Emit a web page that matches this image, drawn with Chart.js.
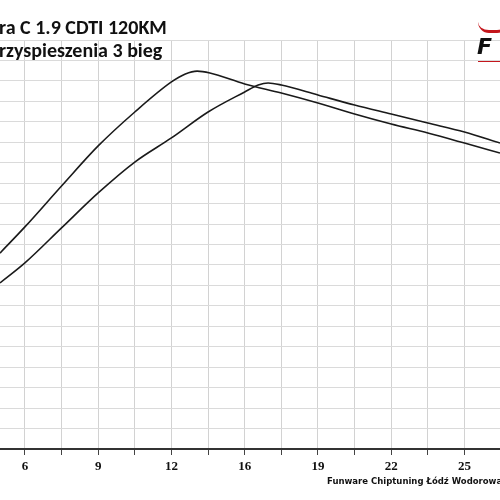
<!DOCTYPE html>
<html>
<head>
<meta charset="utf-8">
<script src="https://cdn.jsdelivr.net/npm/chart.js@4"></script>
<style>
  body { margin: 0; background: #fff; }
  #wrap { position: relative; width: 500px; height: 500px; overflow: hidden; }
  .t { position: absolute; font-family: Carlito, "Open Sans", sans-serif; font-weight: bold; font-size: 20px; color: #111; white-space: nowrap; }
  #foot { position: absolute; left: 327px; top: 476px; font-family: "DejaVu Sans", Verdana, sans-serif; font-weight: bold; font-size: 8.5px; color: #111; white-space: nowrap; }
  #logo { position: absolute; left: 477px; top: 34px; font-family: "DejaVu Sans", sans-serif; font-style: italic; font-weight: bold; font-size: 22px; color: #111; }
  #swoosh { position: absolute; left: 478px; top: 22px; width: 30px; height: 8px; border-bottom: 3px solid #c4161c; border-radius: 0 0 20px 20px; }
  #redline { position: absolute; left: 478px; top: 61px; width: 30px; height: 1px; background: #c4161c; }
</style>
</head>
<body>
<div id="wrap">
  <canvas id="chart" width="500" height="500"></canvas>
  <div class="t" style="left:-1px;top:15px">ra C 1.9 CDTI 120KM</div>
  <div class="t" style="left:-1px;top:38px">rzyspieszenia 3 bieg</div>
  <div id="swoosh"></div>
  <div id="logo">F</div>
  <div id="redline"></div>
  <div id="foot">Funware Chiptuning Łódź Wodorowanie</div>
</div>
<script>
// speed tick labels, one per grid column (every other one shown)
const tickLabels = ['6', '', '9', '', '12', '', '16', '', '19', '', '22', '', '25'];

// curve 1 (earlier peak)
const xA = [-0.68, 0, 1, 2, 3, 4, 4.38, 4.7, 5.05, 6, 7, 8, 9, 10, 11, 12, 12.97];
const yA = [9.58, 10.86, 12.86, 14.82, 16.48, 17.95, 18.34, 18.48, 18.39, 17.85, 17.41, 16.92, 16.38, 15.89, 15.45, 14.96, 14.47];

// curve 2 (later peak)
const xB = [-0.68, 0, 1, 2, 3, 4, 5, 6, 6.37, 6.64, 7, 8, 9, 10, 11, 12, 12.97];
const yB = [8.12, 9.10, 10.81, 12.52, 14.03, 15.21, 16.48, 17.46, 17.8, 17.9, 17.8, 17.31, 16.82, 16.38, 15.94, 15.5, 14.96];

const toPoints = (xs, ys) => xs.map((x, i) => ({ x, y: ys[i] }));

const lineStyle = {
    borderColor: '#1a1a1a',
    borderWidth: 1.6,
    pointRadius: 0,
    cubicInterpolationMode: 'monotone',
    fill: false
};

new Chart(document.getElementById('chart'), {
    type: 'line',
    data: {
        datasets: [
            { ...lineStyle, label: 'A', data: toPoints(xA, yA) },
            { ...lineStyle, label: 'B', data: toPoints(xB, yB) }
        ]
    },
    options: {
        responsive: false,
        animation: false,
        layout: { padding: { top: 40, left: 0, right: 0, bottom: 0 } },
        plugins: { legend: { display: false }, tooltip: { enabled: false } },
        scales: {
            x: {
                type: 'linear',
                min: -0.68,
                max: 12.97,
                afterBuildTicks: axis => {
                    axis.ticks = tickLabels.map((_, i) => ({ value: i }));
                },
                ticks: {
                    autoSkip: false,
                    maxRotation: 0,
                    padding: 4,
                    color: '#111',
                    font: { family: '"Liberation Serif", serif', weight: 'bold', size: 13 },
                    callback: v => tickLabels[v] ?? ''
                },
                grid: { color: '#d2d2d2', lineWidth: 1, tickLength: 6, tickColor: '#444' },
                border: { color: '#333', width: 2 },
                afterFit: axis => { axis.height = 51; }
            },
            y: {
                min: 0,
                max: 20,
                ticks: { display: false, stepSize: 1 },
                grid: { color: '#dadada', lineWidth: 1, drawTicks: false },
                border: { display: false },
                afterFit: axis => { axis.width = 0; }
            }
        }
    }
});
</script>
</body>
</html>
